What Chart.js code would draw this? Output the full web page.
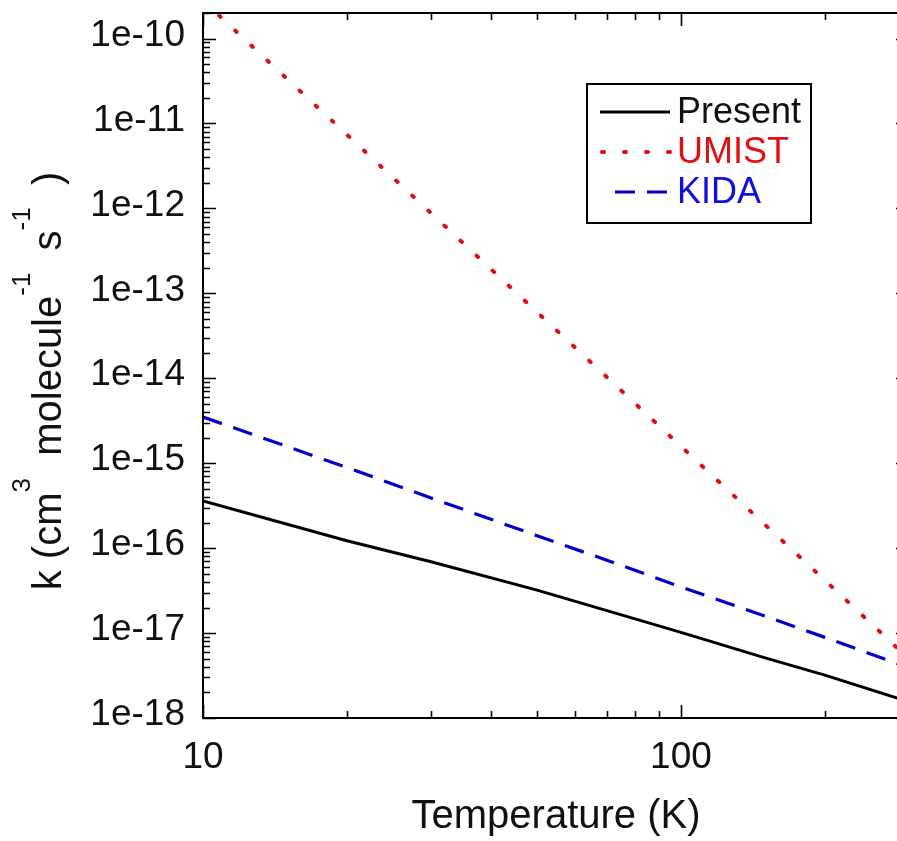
<!DOCTYPE html>
<html>
<head>
<meta charset="utf-8">
<script src="https://cdn.jsdelivr.net/npm/chart.js@4.4.0/dist/chart.umd.min.js"></script>
<style>
  html, body { margin: 0; padding: 0; background: #fff; overflow: hidden; }
  #wrap { width: 930px; height: 841px; }
</style>
</head>
<body>
<div id="wrap"><canvas id="rate-chart"></canvas></div>
<script>
// Rate coefficient k (cm3 molecule-1 s-1) against temperature (K)
const temperatures = [10, 20, 30, 50, 70, 100, 150, 200, 300];
const presentK = [3.6e-16, 1.22e-16, 6.9e-17, 3.2e-17, 1.84e-17, 1.02e-17, 5.1e-18, 3.2e-18, 1.55e-18];
const umistK   = [2.8e-10, 7.4e-12, 8.8e-13, 6.0e-14, 1.03e-14, 1.58e-15, 1.88e-16, 4.2e-17, 4.95e-18];
const kidaK    = [3.5e-15, 8.9e-16, 3.9e-16, 1.4e-16, 7.2e-17, 3.5e-17, 1.58e-17, 8.9e-18, 3.9e-18];

const xLabelTicks = [10, 100];
const yLabelTicks = [1e-18, 1e-17, 1e-16, 1e-15, 1e-14, 1e-13, 1e-12, 1e-11, 1e-10];

const FONT = "'Liberation Sans', Arial, Helvetica, sans-serif";

const pts = (ys) => temperatures.map((t, i) => ({ x: t, y: ys[i] }));

// box frame plus inward ticks on every side
const frameTicks = {
  id: 'frameTicks',
  afterDatasetsDraw(chart) {
    const { ctx, chartArea: a, scales: { x, y } } = chart;
    ctx.save();
    ctx.strokeStyle = '#000';
    ctx.lineWidth = 2;
    ctx.strokeRect(a.left, a.top, a.right - a.left, a.bottom - a.top);
    ctx.lineWidth = 1.6;
    ctx.beginPath();
    for (let dec = 10; dec <= 100; dec *= 10) {
      for (let m = 1; m <= 9; m++) {
        const v = m * dec;
        if (v < x.min || v > x.max) continue;
        const px = Math.round(x.getPixelForValue(v)) + 0.5;
        const len = m === 1 ? 13 : 7;
        ctx.moveTo(px, a.bottom); ctx.lineTo(px, a.bottom - len);
        ctx.moveTo(px, a.top); ctx.lineTo(px, a.top + len);
      }
    }
    for (let e = -18; e <= -10; e++) {
      for (let m = 1; m <= 9; m++) {
        const v = m * Math.pow(10, e);
        if (v < y.min * 0.999 || v > y.max * 1.001) continue;
        const py = Math.round(y.getPixelForValue(v)) + 0.5;
        const len = m === 1 ? 13 : 7;
        ctx.moveTo(a.left, py); ctx.lineTo(a.left + len, py);
        ctx.moveTo(a.right, py); ctx.lineTo(a.right - len, py);
      }
    }
    ctx.stroke();
    ctx.restore();
  }
};

// boxed legend inside the plot, text coloured like its line
const boxLegend = {
  id: 'boxLegend',
  afterDraw(chart) {
    const { ctx } = chart;
    ctx.save();
    ctx.strokeStyle = '#000';
    ctx.lineWidth = 2;
    ctx.strokeRect(587, 84, 224, 139);
    ctx.font = `36px ${FONT}`;
    ctx.textBaseline = 'middle';
    chart.data.datasets.forEach((ds, i) => {
      const yy = 112 + i * 40;
      ctx.strokeStyle = ds.borderColor;
      ctx.lineWidth = ds.borderWidth;
      ctx.lineCap = ds.borderCapStyle || 'butt';
      ctx.setLineDash(ds.borderDash || []);
      ctx.beginPath();
      ctx.moveTo(ds.legendStart, yy);
      ctx.lineTo(670, yy);
      ctx.stroke();
      ctx.setLineDash([]);
      ctx.fillStyle = ds.textColor;
      ctx.fillText(ds.label, 677, yy + 1);
    });
    ctx.restore();
  }
};

// rotated y title with superscripts
const yTitle = {
  id: 'yTitle',
  afterDraw(chart) {
    const { ctx } = chart;
    const parts = [['k (cm', 0], ['3', 1], ['  molecule', 0], ['-1', 1], ['  s', 0], ['-1', 1], ['  )', 0]];
    const big = `40px ${FONT}`, small = `26px ${FONT}`;
    ctx.save();
    let total = 0;
    parts.forEach(([t, s]) => { ctx.font = s ? small : big; total += ctx.measureText(t).width; });
    ctx.translate(47, 381);
    ctx.rotate(-Math.PI / 2);
    ctx.fillStyle = '#111';
    ctx.textBaseline = 'alphabetic';
    let cx = -total / 2;
    parts.forEach(([t, s]) => {
      ctx.font = s ? small : big;
      ctx.fillText(t, cx, s ? -17 : 14);
      cx += ctx.measureText(t).width;
    });
    ctx.restore();
  }
};

new Chart(document.getElementById('rate-chart'), {
  type: 'line',
  data: {
    datasets: [
      {
        label: 'Present', data: pts(presentK),
        borderColor: '#000', borderWidth: 3, textColor: '#111', legendStart: 600,
      },
      {
        label: 'UMIST', data: pts(umistK),
        borderColor: '#dd1111', borderWidth: 4, borderDash: [2, 20], borderCapStyle: 'round',
        textColor: '#e01010', legendStart: 602,
      },
      {
        label: 'KIDA', data: pts(kidaK),
        borderColor: '#0000cc', borderWidth: 3.2, borderDash: [20, 12],
        textColor: '#1010dd', legendStart: 615,
      },
    ],
  },
  options: {
    responsive: true,
    maintainAspectRatio: false,
    animation: false,
    layout: { padding: { left: 0, top: 13, right: 21, bottom: 0 } },
    elements: { point: { radius: 0 }, line: { tension: 0 } },
    plugins: { legend: { display: false }, tooltip: { enabled: false } },
    scales: {
      x: {
        type: 'logarithmic', min: 10, max: 300,
        afterBuildTicks: (s) => { s.ticks = xLabelTicks.map(v => ({ value: v })); },
        afterFit: (s) => { s.height = 123; s.paddingLeft = 0; s.paddingRight = 0; },
        grid: { display: false, drawTicks: false },
        border: { display: false },
        ticks: { color: '#111', font: { family: FONT, size: 37 }, padding: 18, callback: v => String(v) },
        title: { display: true, text: 'Temperature (K)', color: '#111', font: { family: FONT, size: 40, lineHeight: 1.2 }, padding: { top: 0, bottom: 0 } },
      },
      y: {
        type: 'logarithmic', min: 1e-18, max: 2e-10,
        afterBuildTicks: (s) => { s.ticks = yLabelTicks.map(v => ({ value: v })); },
        afterFit: (s) => { s.width = 203; s.paddingTop = 0; s.paddingBottom = 0; },
        grid: { display: false, drawTicks: false },
        border: { display: false },
        ticks: {
          color: '#111', font: { family: FONT, size: 37 }, padding: 18, labelOffset: -3,
          callback: v => '1e' + Math.round(Math.log10(v)),
        },
      },
    },
  },
  plugins: [frameTicks, boxLegend, yTitle],
});
</script>
</body>
</html>
